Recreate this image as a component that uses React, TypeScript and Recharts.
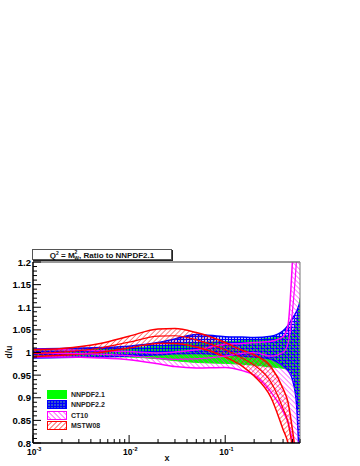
import { ComposedChart, Area, Line, XAxis, YAxis, ReferenceLine } from "recharts";

// x grid (log) and band edges
const xs = [0.001, 0.002, 0.005, 0.01, 0.02, 0.03, 0.05, 0.1, 0.15, 0.2, 0.3, 0.4, 0.45, 0.5, 0.55, 0.6];

const nn21Lo = [0.992, 0.992, 0.991, 0.99, 0.986, 0.982, 0.978, 0.976, 0.974, 0.972, 0.968, 0.965, 0.962, 0.955, 0.91, 0.86];
const nn21Hi = [1.008, 1.008, 1.009, 1.01, 1.014, 1.018, 1.022, 1.024, 1.026, 1.028, 1.032, 1.035, 1.038, 1.045, 1.07, 1.12];

const nn22Lo = [0.988, 0.989, 0.99, 0.992, 0.995, 0.997, 0.998, 0.995, 0.992, 0.99, 0.985, 0.97, 0.96, 0.94, 0.89, 0.72];
const nn22Hi = [1.008, 1.009, 1.011, 1.014, 1.022, 1.03, 1.04, 1.035, 1.034, 1.033, 1.036, 1.048, 1.06, 1.075, 1.09, 1.11];

const ct10Lo = [0.99, 0.99, 0.988, 0.984, 0.975, 0.969, 0.966, 0.967, 0.96, 0.95, 0.912, 0.87, 0.845, 0.805, 0.76, 0.7];
const ct10Mid = [0.998, 0.998, 0.996, 0.993, 0.987, 0.985, 0.986, 0.992, 0.998, 1.0, 0.992, 1.0, 1.02, 1.09, 1.2, 1.35];
const ct10Hi = [1.007, 1.006, 1.004, 1.002, 0.999, 1.001, 1.006, 1.018, 1.02, 1.022, 1.025, 1.035, 1.06, 1.2, 1.4, 1.6];

const mstwLo = [0.991, 0.994, 1.0, 1.01, 1.02, 1.02, 1.012, 0.99, 0.97, 0.948, 0.9, 0.83, 0.8, 0.745, 0.67, 0.59];
const mstwMid = [0.998, 1.001, 1.01, 1.023, 1.036, 1.037, 1.028, 1.006, 0.988, 0.972, 0.934, 0.876, 0.846, 0.788, 0.715, 0.63];
const mstwHi = [1.006, 1.009, 1.02, 1.036, 1.052, 1.053, 1.044, 1.022, 1.005, 0.995, 0.968, 0.92, 0.89, 0.83, 0.76, 0.67];

const xMajor = [0.001, 0.01, 0.1];
const xTicks = [
  0.001, 0.002, 0.003, 0.004, 0.005, 0.006, 0.007, 0.008, 0.009,
  0.01, 0.02, 0.03, 0.04, 0.05, 0.06, 0.07, 0.08, 0.09,
  0.1, 0.2, 0.3, 0.4, 0.5, 0.6,
];
const xLabels = ["-3", "-2", "-1"];

const yMajor = [0.8, 0.85, 0.9, 0.95, 1, 1.05, 1.1, 1.15, 1.2];
const yTicks: number[] = [];
for (let i = 80; i <= 120; i++) yTicks.push(i / 100);

const legendItems = [
  { name: "NNPDF2.1", color: "#00ff00", fill: "#00ff00" },
  { name: "NNPDF2.2", color: "#0000ff", fill: "url(#lgNn22)" },
  { name: "CT10", color: "#ff00ff", fill: "url(#lgCt10)" },
  { name: "MSTW08", color: "#ff0000", fill: "url(#lgMstw)" },
];

const data = xs.map((x, i) => ({
  x,
  nn21: [nn21Lo[i], nn21Hi[i]],
  nn22: [nn22Lo[i], nn22Hi[i]],
  ct10: [ct10Lo[i], ct10Hi[i]],
  ct10Mid: ct10Mid[i],
  mstw: [mstwLo[i], mstwHi[i]],
  mstwMid: mstwMid[i],
}));

const font = "'Liberation Sans', Arial, sans-serif";

const near = (arr: number[], v: number) => arr.findIndex((m) => Math.abs(m - v) < 1e-7);

const YTick = (props: any) => {
  const { x, y, payload } = props;
  const major = near(yMajor, payload.value) >= 0;
  return (
    <g>
      <line x1={x} y1={y} x2={x + (major ? 8 : 4)} y2={y} stroke="#000" strokeWidth={1} />
      {major && (
        <text x={x - 2} y={y + 3.5} textAnchor="end" fontSize={9.5} fontWeight="bold" fontFamily={font} fill="#000">
          {String(payload.value)}
        </text>
      )}
    </g>
  );
};

const XTick = (props: any) => {
  const { x, y, payload } = props;
  const idx = near(xMajor, payload.value);
  const major = idx >= 0;
  return (
    <g>
      <line x1={x} y1={y} x2={x} y2={y - (major ? 8 : 4)} stroke="#000" strokeWidth={1} />
      {major && (
        <text x={x - 6} y={y + 12} textAnchor="start" fontSize={8.5} fontWeight="bold" fontFamily={font} fill="#000">
          10
          <tspan dy={-4} fontSize={5.5}>
            {xLabels[idx]}
          </tspan>
        </text>
      )}
    </g>
  );
};

const Swatch = ({ color, fill }: { color: string; fill: string }) => (
  <svg width={20} height={9} style={{ display: "block" }}>
    <rect x={0.5} y={0.5} width={19} height={8} fill={fill} stroke={color} strokeWidth={1} />
  </svg>
);

export default function App() {
  return (
    <div style={{ position: "absolute", left: 0, top: 0, width: 360, height: 466, background: "#fff", fontFamily: font }}>
      <svg width={0} height={0} style={{ position: "absolute" }}>
        <defs>
          <pattern id="lgNn22" width={3} height={3} patternUnits="userSpaceOnUse">
            <rect width={3} height={3} fill="#3355cc" />
            <path d="M0 0.5H3M0.5 0V3" stroke="#0000ff" strokeWidth={1} />
          </pattern>
          <pattern id="lgCt10" width={3.5} height={3.5} patternUnits="userSpaceOnUse" patternTransform="rotate(-45)">
            <line x1={0} y1={0} x2={0} y2={3.5} stroke="#ff00ff" strokeWidth={1.2} />
          </pattern>
          <pattern id="lgMstw" width={3.5} height={3.5} patternUnits="userSpaceOnUse" patternTransform="rotate(45)">
            <line x1={0} y1={0} x2={0} y2={3.5} stroke="#ff0000" strokeWidth={1.2} />
          </pattern>
        </defs>
      </svg>

      <ComposedChart width={360} height={466} data={data} margin={{ top: 262, right: 60, bottom: 0, left: 0 }}>
        <defs>
          <pattern id="nn22Grid" width={3} height={3} patternUnits="userSpaceOnUse">
            <rect width={3} height={3} fill="rgba(40,60,200,0.3)" />
            <path d="M0 0.5H3M0.5 0V3" stroke="#0000ff" strokeWidth={1} />
          </pattern>
          <pattern id="ct10Hatch" width={3.5} height={3.5} patternUnits="userSpaceOnUse" patternTransform="rotate(-45)">
            <line x1={0} y1={0} x2={0} y2={3.5} stroke="#ff00ff" strokeWidth={1} />
          </pattern>
          <pattern id="mstwHatch" width={3.5} height={3.5} patternUnits="userSpaceOnUse" patternTransform="rotate(45)">
            <line x1={0} y1={0} x2={0} y2={3.5} stroke="#ff0000" strokeWidth={1} />
          </pattern>
        </defs>
        <XAxis
          dataKey="x"
          type="number"
          scale="log"
          domain={[0.001, 0.6]}
          allowDataOverflow
          ticks={xTicks}
          interval={0}
          tickSize={0}
          tickMargin={0}
          tickLine={false}
          tick={<XTick />}
          height={23}
          axisLine={{ stroke: "#000", strokeWidth: 1.5 }}
        />
        <YAxis
          type="number"
          domain={[0.8, 1.2]}
          allowDataOverflow
          ticks={yTicks}
          interval={0}
          tickSize={0}
          tickMargin={0}
          tickLine={false}
          tick={<YTick />}
          width={33}
          axisLine={{ stroke: "#000", strokeWidth: 1.5 }}
        />
        <Area
          dataKey="nn21"
          type="monotone"
          fill="#00ff00"
          fillOpacity={1}
          stroke="#00ff00"
          strokeWidth={1}
          isAnimationActive={false}
          dot={false}
          activeDot={false}
        />
        <Area
          dataKey="nn22"
          type="monotone"
          fill="url(#nn22Grid)"
          fillOpacity={1}
          stroke="#0000ff"
          strokeWidth={1.5}
          isAnimationActive={false}
          dot={false}
          activeDot={false}
        />
        <Area
          dataKey="ct10"
          type="monotone"
          fill="url(#ct10Hatch)"
          fillOpacity={1}
          stroke="#ff00ff"
          strokeWidth={1.5}
          isAnimationActive={false}
          dot={false}
          activeDot={false}
        />
        <Line dataKey="ct10Mid" type="monotone" stroke="#ff00ff" strokeWidth={1.2} dot={false} activeDot={false} isAnimationActive={false} />
        <Area
          dataKey="mstw"
          type="monotone"
          fill="url(#mstwHatch)"
          fillOpacity={1}
          stroke="#ff0000"
          strokeWidth={1.5}
          isAnimationActive={false}
          dot={false}
          activeDot={false}
        />
        <Line dataKey="mstwMid" type="monotone" stroke="#ff0000" strokeWidth={1.2} dot={false} activeDot={false} isAnimationActive={false} />
        <ReferenceLine y={1.2} stroke="#777" strokeWidth={1.5} ifOverflow="extendDomain" />
        <ReferenceLine x={0.6} stroke="#777" strokeWidth={1} ifOverflow="extendDomain" />
      </ComposedChart>

      {/* title box */}
      <svg width={144} height={14} style={{ position: "absolute", left: 31, top: 248 }}>
        <rect x={2} y={2} width={140} height={11} fill="#222" />
        <rect x={1.5} y={1.5} width={139} height={10} fill="#fff" stroke="#555" strokeWidth={1} />
        <text x={71} y={9.8} textAnchor="middle" fontSize={8} fontWeight="bold" fontFamily={font} fill="#111">
          Q
          <tspan dy={-3} fontSize={5}>2</tspan>
          <tspan dy={3}> = M</tspan>
          <tspan dy={-3.5} fontSize={5}>2</tspan>
          <tspan dx={-3} dy={5.5} fontSize={5}>W</tspan>
          <tspan dy={-2}>, Ratio to NNPDF2.1</tspan>
        </text>
      </svg>

      {/* axis titles */}
      <div
        style={{
          position: "absolute",
          left: 9,
          top: 352,
          transform: "translate(-50%, -50%) rotate(-90deg)",
          fontSize: 8.5,
          fontWeight: "bold",
          color: "#111",
          whiteSpace: "nowrap",
        }}
      >
        d/u
      </div>
      <div
        style={{
          position: "absolute",
          left: 167,
          top: 458,
          transform: "translate(-50%, -50%)",
          fontSize: 9,
          fontWeight: "bold",
          color: "#111",
        }}
      >
        x
      </div>

      {/* legend */}
      <div style={{ position: "absolute", left: 47, top: 389 }}>
        {legendItems.map((it) => (
          <div key={it.name} style={{ display: "flex", alignItems: "center", height: 10.5 }}>
            <Swatch color={it.color} fill={it.fill} />
            <span style={{ marginLeft: 4, fontSize: 7, fontWeight: "bold", color: "#222" }}>{it.name}</span>
          </div>
        ))}
      </div>
    </div>
  );
}
